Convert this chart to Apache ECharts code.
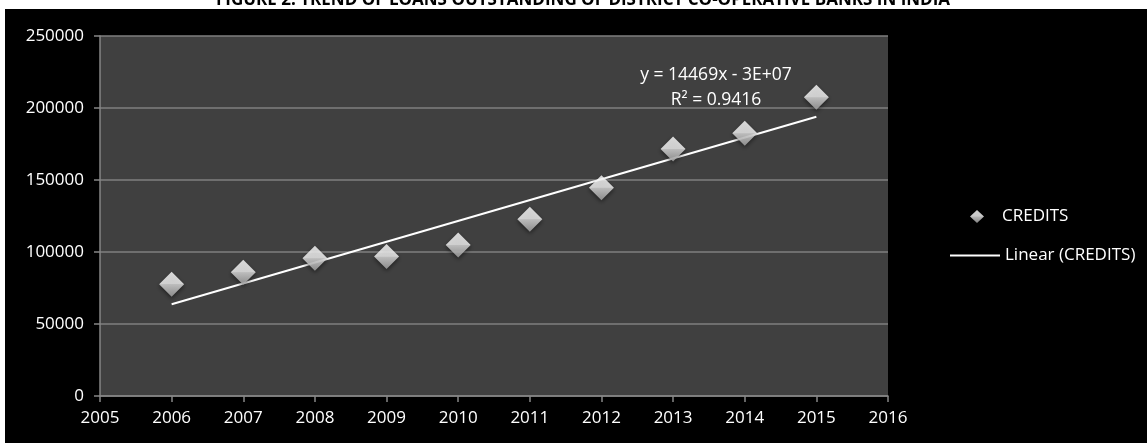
<!DOCTYPE html>
<html>
<head>
<meta charset="utf-8">
<script src="https://cdn.jsdelivr.net/npm/echarts@6/dist/echarts.min.js"></script>
<style>
html,body{margin:0;padding:0;background:#fff;}
#chart{width:1147px;height:443px;}
</style>
</head>
<body>
<div id="chart"></div>
<script>
// ---- data ----
const years = [2006, 2007, 2008, 2009, 2010, 2011, 2012, 2013, 2014, 2015];
const credits = [77600, 85900, 95600, 96800, 104900, 122700, 144700, 171500, 182400, 207400];
const trendYears = [2006, 2015];
const trendValues = [63700, 193900];
const yTicks = [0, 50000, 100000, 150000, 200000, 250000];
const xRange = [2005, 2016];
const titleText = 'FIGURE 2: TREND OF LOANS OUTSTANDING OF DISTRICT CO-OPERATIVE BANKS IN INDIA';
const equationText = 'y = 14469x - 3E+07';
const r2Text = 'R\u00B2 = 0.9416';
const seriesName = 'CREDITS';
const trendName = 'Linear (CREDITS)';

const FONT = '"Open Sans", "DejaVu Sans", sans-serif';
const chart = echarts.init(document.getElementById('chart'), null, {renderer: 'canvas'});

const diamondFill = new echarts.graphic.LinearGradient(0, 0, 0, 1, [
  {offset: 0, color: '#ffffff'},
  {offset: 0.49, color: '#fafafa'},
  {offset: 0.51, color: '#e2e2e2'},
  {offset: 1, color: '#a4a4a4'}
]);

chart.setOption({
  backgroundColor: '#ffffff',
  animation: false,
  graphic: [
    {type: 'rect', z: -10, silent: true, shape: {x: 5, y: 9, width: 1142, height: 434}, style: {fill: '#000000'}},
    {type: 'text', z: 10, x: 583, y: 0.5, style: {text: titleText, fill: '#000', font: 'bold 17px ' + FONT, textAlign: 'center', textVerticalAlign: 'middle'}},
    {type: 'text', z: 10, x: 716, y: 75, style: {text: equationText, fill: '#ffffff', font: '17.5px ' + FONT, textAlign: 'center', textVerticalAlign: 'middle'}},
    {type: 'text', z: 10, x: 716, y: 100, style: {text: r2Text, fill: '#ffffff', font: '17.5px ' + FONT, textAlign: 'center', textVerticalAlign: 'middle'}}
  ],
  grid: {
    left: 100, top: 36, right: 259, bottom: 47,
    show: true, backgroundColor: '#404040', borderWidth: 0
  },
  legend: [
    {
      orient: 'vertical',
      left: 965, top: 203,
      itemWidth: 14, itemHeight: 13,
      textStyle: {color: '#ffffff', fontSize: 17, fontFamily: FONT, padding: [0, 0, 0, 13]},
      data: [{name: seriesName, icon: 'diamond'}]
    },
    {
      orient: 'vertical',
      left: 945, top: 242,
      itemWidth: 50, itemHeight: 2,
      textStyle: {color: '#ffffff', fontSize: 17, fontFamily: FONT},
      data: [{name: trendName, icon: 'rect', itemStyle: {color: '#ffffff'}}]
    }
  ],
  xAxis: {
    type: 'value',
    min: xRange[0], max: xRange[1], interval: 1,
    axisLine: {show: true, lineStyle: {color: '#868686', width: 1.5}},
    axisTick: {show: true, length: 6, lineStyle: {color: '#868686', width: 1.5}},
    axisLabel: {color: '#ffffff', fontSize: 17, fontFamily: FONT, margin: 14, formatter: v => String(v)},
    splitLine: {show: false}
  },
  yAxis: {
    type: 'value',
    min: yTicks[0], max: yTicks[yTicks.length - 1], interval: yTicks[1] - yTicks[0],
    axisLine: {show: true, lineStyle: {color: '#868686', width: 1.5}},
    axisTick: {show: true, length: 6, lineStyle: {color: '#868686', width: 1.5}},
    axisLabel: {color: '#ffffff', fontSize: 17, fontFamily: FONT, margin: 16, formatter: v => String(v)},
    splitLine: {show: true, lineStyle: {color: '#7f7f7f', width: 1.5}}
  },
  series: [
    {
      name: trendName,
      type: 'line',
      data: trendYears.map((y, i) => [y, trendValues[i]]),
      symbol: 'none',
      lineStyle: {color: '#ffffff', width: 2},
      itemStyle: {color: '#ffffff'},
      z: 2
    },
    {
      name: seriesName,
      type: 'scatter',
      data: years.map((y, i) => [y, credits[i]]),
      symbol: 'diamond',
      symbolSize: [25, 25],
      itemStyle: {
        color: diamondFill,
        shadowBlur: 4, shadowColor: 'rgba(0,0,0,0.6)', shadowOffsetY: 2
      },
      z: 3
    }
  ]
});
</script>
</body>
</html>
